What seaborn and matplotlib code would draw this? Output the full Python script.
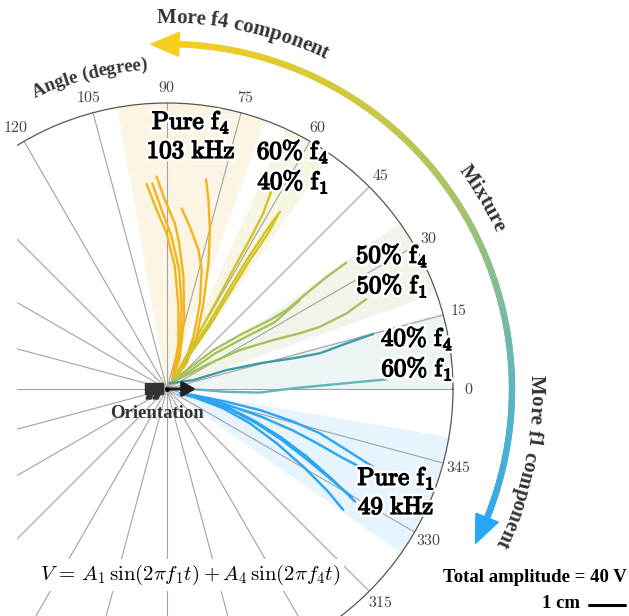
import numpy as np
import pandas as pd
import matplotlib
matplotlib.use('Agg')
import matplotlib.pyplot as plt
import matplotlib.patheffects as pe
import seaborn as sns
from matplotlib.collections import LineCollection
from matplotlib.colors import LinearSegmentedColormap
from matplotlib.patches import Polygon, Rectangle, FancyArrowPatch
from matplotlib.lines import Line2D
from matplotlib.font_manager import FontProperties
from matplotlib.textpath import TextToPath

W, H, DPI = 629, 616, 100
CX, CY = 167, 389      # pole of the polar plot (px, from top-left)
R_PX = 286             # outer circle radius (px)
R_MAX = 80.0           # outer circle radius (mm)

# trajectories, mm from the start point; one inner list per run
pure_f4_x = [[1.3, 3.2, 3.2, 2.2, -0.1, -2.9, -5.7],
             [1.3, 3.6, 4.1, 3.4, 1.3, -1.5, -4.1],
             [1.3, 3.6, 4.8, 4.6, 3.4, 2.2, -0.6, -2.9],
             [1.3, 5.5, 8.3, 10.2, 11.6, 12.0, 11.6, 10.9],
             [1.3, 5.0, 7.4, 9.2, 9.7, 8.8, 6.4, 4.1]]
pure_f4_y = [[1.6, 12.8, 23.0, 34.2, 43.6, 50.1, 57.3],
             [1.6, 10.9, 23.0, 33.3, 42.6, 50.1, 57.5],
             [1.6, 9.0, 20.2, 31.4, 40.8, 46.3, 52.9, 59.4],
             [1.6, 7.2, 14.6, 24.0, 35.2, 44.5, 52.9, 58.7],
             [1.6, 7.2, 14.6, 24.0, 33.3, 38.9, 45.4, 50.5]]
mix_60_40_x = [[1.3, 7.4, 13.0, 18.5, 24.1, 26.9, 29.3],
               [1.3, 5.5, 11.1, 16.7, 22.3, 27.9, 31.6],
               [1.3, 6.2, 11.9, 17.4, 22.9, 28.3, 31.0]]
mix_60_40_y = [[1.6, 12.8, 23.0, 33.3, 43.6, 49.1, 55.7],
               [1.6, 9.0, 17.4, 26.8, 36.1, 44.5, 49.6],
               [1.6, 9.4, 17.6, 26.6, 35.6, 43.6, 48.6]]
mix_50_50_x = [[0.8, 5.5, 13.0, 21.3, 28.8, 33.5, 39.1, 44.7, 50.1],
               [0.8, 12.0, 20.4, 29.7, 37.2, 42.8, 50.3, 55.7],
               [0.8, 6.0, 13.5, 22.5, 30.0, 37.2]]
mix_50_50_y = [[1.6, 5.3, 10.9, 15.6, 19.3, 22.1, 26.8, 31.4, 35.3],
               [1.6, 7.2, 10.9, 13.7, 15.6, 17.4, 21.2, 25.1],
               [1.6, 4.8, 10.0, 14.8, 18.6, 24.9]]
mix_40_60_x = [[0.8, 7.4, 16.7, 26.0, 35.3, 42.8, 50.3, 57.7],
               [3.6, 10.2, 16.7, 26.0, 35.3, 44.7, 54.0, 61.5]]
mix_40_60_y = [[1.6, 2.5, 5.3, 7.2, 8.6, 10.0, 12.8, 15.4],
               [0.2, -0.3, -0.8, -1.0, 0.2, 1.1, 2.0, 2.7]]
pure_f1_x = [[3.6, 7.4, 16.7, 26.0, 35.3, 42.8, 50.3, 57.5],
             [3.6, 7.4, 16.7, 24.1, 31.6, 39.1, 46.5, 52.6],
             [3.6, 8.0, 17.5, 25.0, 32.0, 39.0, 45.5, 51.7],
             [3.6, 7.4, 15.7, 23.2, 30.7, 38.1, 44.7, 49.3],
             [3.6, 8.0, 17.0, 26.5, 35.0, 42.0, 49.0, 55.7]]
pure_f1_y = [[-1.2, -1.7, -3.6, -5.9, -9.1, -12.4, -17.1, -21.7],
             [-1.2, -2.2, -5.0, -8.7, -13.3, -18.9, -25.5, -31.5],
             [-1.2, -2.4, -5.6, -9.6, -14.2, -19.6, -25.0, -30.2],
             [-1.2, -2.2, -5.4, -9.6, -15.2, -21.7, -28.3, -33.8],
             [-1.2, -2.0, -4.5, -7.8, -11.5, -15.2, -19.2, -22.7]]

# angular sectors (deg)
sector_lo = [70, 55, 19.5, 0, -35]
sector_hi = [100, 65.5, 35.5, 15.5, -9.7]
sector_colors = ['#fcf5e4', '#f6f6e3', '#f2f4ea', '#ecf4f6', '#e6f4fd']
sector_labels = [r'$\mathrm{Pure\ f_4}$' + '\n' + r'$\mathrm{103\ kHz}$',
                 r'$\mathrm{60\%\ f_4}$' + '\n' + r'$\mathrm{40\%\ f_1}$',
                 r'$\mathrm{50\%\ f_4}$' + '\n' + r'$\mathrm{50\%\ f_1}$',
                 r'$\mathrm{40\%\ f_4}$' + '\n' + r'$\mathrm{60\%\ f_1}$',
                 r'$\mathrm{Pure\ f_1}$' + '\n' + r'$\mathrm{49\ kHz}$']
label_px = [(191, 136), (293, 167), (392, 271), (417, 354), (396, 492)]

grid_angles = list(range(0, 360, 15))
tick_labels = [0, 15, 30, 45, 60, 75, 90, 105, 120, 315, 330, 345]

sns.set_theme(style='white')
plt.rcParams['mathtext.fontset'] = 'cm'
plt.rcParams['font.family'] = ['DejaVu Sans']

fig = plt.figure(figsize=(W / DPI, H / DPI), dpi=DPI)
fig.patch.set_facecolor('white')


def fx(x):
    return x / W


def fy(y):
    return 1 - y / H


def on_circle(theta, r):
    a = np.deg2rad(theta)
    return CX + r * np.cos(a), CY - r * np.sin(a)


ax = fig.add_axes([fx(CX - R_PX), 1 - (CY + R_PX) / H, 2 * R_PX / W, 2 * R_PX / H],
                  projection='polar')
ax.set_ylim(0, R_MAX)
ax.set_yticks([])
ax.set_xticks(np.deg2rad(grid_angles))
ax.set_xticklabels([])
ax.xaxis.grid(True, color='#a2a2a2', lw=0.8)
ax.spines['polar'].set_color('#555555')
ax.spines['polar'].set_linewidth(0.9)

# sectors
for lo, hi, c in zip(sector_lo, sector_hi, sector_colors):
    ax.bar(np.deg2rad((lo + hi) / 2), R_MAX, width=np.deg2rad(hi - lo), bottom=0,
           color=c, linewidth=0, zorder=0.5)

# trajectories
groups = [('f4', pure_f4_x, pure_f4_y, ['#f4b31c'] * 5),
          ('m64', mix_60_40_x, mix_60_40_y, ['#d2c326'] * 3),
          ('m55', mix_50_50_x, mix_50_50_y, ['#a4c25c'] * 3),
          ('m46', mix_40_60_x, mix_40_60_y, ['#3f9ca6', '#62b6b8']),
          ('f1', pure_f1_x, pure_f1_y, ['#2ba5ef'] * 5)]
rows = []
palette = {}
for name, xs, ys, cols in groups:
    for k, (xr, yr) in enumerate(zip(xs, ys)):
        run = f'{name}_{k}'
        palette[run] = cols[k]
        for i, (x, y) in enumerate(zip(xr, yr)):
            rows.append({'run': run, 'step': i, 'x': x, 'y': y})
df = pd.DataFrame(rows)
df['theta'] = np.arctan2(df['y'], df['x'])
df['r'] = np.hypot(df['x'], df['y'])
sns.lineplot(data=df, x='theta', y='r', hue='run', palette=palette, estimator=None,
             sort=False, legend=False, lw=1.7, ax=ax)
ax.set_xlabel('')
ax.set_ylabel('')
ax.set_ylim(0, R_MAX)

# white strip at the left edge
fig.add_artist(Rectangle((0, 0), fx(16), 1, transform=fig.transFigure,
                         color='white', zorder=1))

# angle tick labels
for a in tick_labels:
    x, y = on_circle(a, R_PX + 16)
    fig.text(fx(max(x, 13)), fy(y), r'$\mathrm{%d}$' % a, fontsize=11.5, color='#444444',
             ha='center', va='center', zorder=3)

# sector labels
halo = [pe.Stroke(linewidth=4.5, foreground='white'),
        pe.Stroke(linewidth=1.0, foreground='black'), pe.Normal()]
for lab, (x, y) in zip(sector_labels, label_px):
    fig.text(fx(x), fy(y), lab, fontsize=18, ha='center', va='center',
             linespacing=1.2, color='black', path_effects=halo, zorder=4)

# gradient arc
arc_cmap = LinearSegmentedColormap.from_list(
    'arc', [(0.0, '#28a7f7'), (0.22, '#5eb4c2'), (0.49, '#a3c46c'),
            (0.73, '#d3c93a'), (1.0, '#f8cf1e')])
R_ARC = 345
th = np.linspace(-22.4, 88.5, 240)
ax_, ay_ = on_circle(th, R_ARC)
pts = np.column_stack([fx(ax_), fy(ay_)])
segs = np.stack([pts[:-1], pts[1:]], axis=1)
lc = LineCollection(segs, colors=arc_cmap((th[:-1] + 26.4) / (92.5 + 26.4)),
                    linewidths=4.6, capstyle='round', transform=fig.transFigure, zorder=2)
fig.add_artist(lc)


def arrow_head(tip_deg, base_deg, color):
    tx, ty = on_circle(tip_deg, R_ARC)
    b1x, b1y = on_circle(base_deg, R_ARC - 12)
    b2x, b2y = on_circle(base_deg, R_ARC + 12)
    fig.add_artist(Polygon([[fx(tx), fy(ty)], [fx(b1x), fy(b1y)], [fx(b2x), fy(b2y)]],
                           closed=True, color=color, transform=fig.transFigure, zorder=2))


arrow_head(92.7, 88.0, '#f8cf1e')
arrow_head(-26.6, -21.9, '#28a7f7')

# curved labels
t2p = TextToPath()


def curved_text(s, theta_c, r_base, size, color='#333333'):
    fp = FontProperties(family='Liberation Serif', weight='bold', size=size)

    def wpx(t):
        return t2p.get_text_width_height_descent(t, fp, ismath=False)[0] * DPI / 72

    total = wpx(s)
    for i, ch in enumerate(s):
        if ch == ' ':
            continue
        pos = wpx(s[:i + 1]) - wpx(ch) / 2
        ang = np.deg2rad(theta_c) + (total / 2 - pos) / r_base
        x, y = CX + r_base * np.cos(ang), CY - r_base * np.sin(ang)
        fig.text(fx(x), fy(y), ch, fontproperties=fp, color=color,
                 rotation=np.rad2deg(ang) - 90, rotation_mode='anchor',
                 ha='center', va='baseline', zorder=3)


curved_text('More f4 component', 78.0, 366, 15)
curved_text('Mixture', 31.2, 364, 15)
curved_text('More f1 component', -11.6, 364, 15)
curved_text('Angle (degree)', 104.0, 320, 13.5)

# orientation marker
fig.add_artist(Rectangle((fx(145), fy(394)), fx(18), 11 / H, transform=fig.transFigure,
                         color='#333333', zorder=3))
for x0 in (148, 155):
    fig.add_artist(Polygon([[fx(x0), fy(394)], [fx(x0 + 5), fy(394)],
                            [fx(x0 + 3), fy(399)], [fx(x0 - 2), fy(399)]],
                           closed=True, color='#333333', transform=fig.transFigure, zorder=3))
fig.add_artist(FancyArrowPatch((fx(170), fy(389)), (fx(196), fy(389)),
                               arrowstyle='-|>,head_length=0.8,head_width=0.45',
                               mutation_scale=10, color='#222222', lw=2.2,
                               shrinkA=0, shrinkB=0, transform=fig.transFigure, zorder=3))
fig.add_artist(Line2D([fx(CX)], [fy(CY)], marker='o', ms=2.5, color='black',
                      transform=fig.transFigure, zorder=3))
fig.text(fx(157), fy(413), 'Orientation', family='Liberation Serif', weight='bold',
         fontsize=13.5, color='#333333', ha='center', va='center', zorder=3)

# equation and amplitude notes
fig.text(fx(190), fy(575), r'$V\,=\,A_1\,\sin(2\pi f_1 t) + A_4\,\sin(2\pi f_4 t)$',
         fontsize=15, ha='center', va='center', color='black', zorder=3,
         bbox=dict(fc='white', ec='none', pad=3))
fig.text(fx(627), fy(578), 'Total amplitude = 40 V', family='Liberation Serif',
         weight='bold', fontsize=13.5, ha='right', va='center', color='black', zorder=3)
fig.text(fx(580), fy(604), '1 cm', family='Liberation Serif', weight='bold',
         fontsize=13.5, ha='right', va='center', color='black', zorder=3)
bar_px = 10 * R_PX / R_MAX
fig.add_artist(Line2D([fx(589), fx(589 + bar_px)], [fy(605), fy(605)], color='black',
                      lw=2.2, transform=fig.transFigure, zorder=3))

fig.savefig('out.png', dpi=DPI)
